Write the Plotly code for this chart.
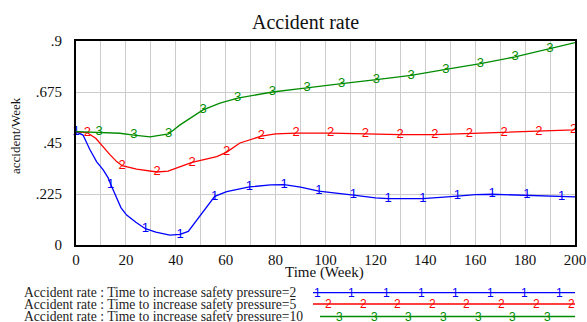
import plotly.graph_objects as go

# ---- data ----
x_s1 = [0, 2.8, 5.6, 8.3, 10.9, 12.9, 13.9, 16, 18, 20.3, 24, 27.8, 32, 37.6, 41.7, 45, 50, 55.6, 60.4,
        69.5, 78, 83.4, 90, 97.3, 111.2, 120, 125.1, 139, 152.9, 160, 166.8, 180.7, 194.6, 200]
y_s1 = [0.5, 0.485, 0.42, 0.367, 0.331, 0.296, 0.268, 0.215, 0.165, 0.132, 0.1, 0.072, 0.057, 0.044, 0.047, 0.06, 0.135, 0.215, 0.235,
        0.256, 0.265, 0.266, 0.255, 0.238, 0.22, 0.208, 0.205, 0.205, 0.216, 0.222, 0.224, 0.22, 0.213, 0.212]
m_s1 = [0, 13.9, 27.8, 41.7, 55.6, 69.5, 83.4, 97.3, 111.2, 125.1, 139, 152.9, 166.8, 180.7, 194.6]

x_s2 = [0, 4.6, 8, 10.9, 13.5, 16.3, 18.5, 24.3, 32.5, 36.9, 42, 46.5, 56.4, 60.4, 65.7, 74.3, 80, 88.2,
        102.1, 116, 129.9, 143.8, 157.7, 171.6, 185.5, 199.4, 200]
y_s2 = [0.5, 0.495, 0.47, 0.432, 0.4, 0.368, 0.35, 0.335, 0.322, 0.326, 0.345, 0.365, 0.39, 0.41, 0.45, 0.48, 0.49, 0.494,
        0.494, 0.49, 0.487, 0.487, 0.492, 0.497, 0.5, 0.508, 0.51]
m_s2 = [4.6, 18.5, 32.5, 46.5, 60.4, 74.3, 88.2, 102.1, 116, 129.9, 143.8, 157.7, 171.6, 185.5, 199.4]

x_s3 = [0, 9.3, 17.6, 23.2, 29.7, 37.1, 41.7, 50.9, 57.7, 64.8, 78.7, 90, 92.6, 106.5, 120.4, 134.3,
        148.2, 162.1, 176, 189.9, 200]
y_s3 = [0.5, 0.498, 0.493, 0.485, 0.477, 0.49, 0.53, 0.596, 0.626, 0.648, 0.675, 0.69, 0.693, 0.712, 0.73, 0.748,
        0.775, 0.8, 0.83, 0.865, 0.893]
m_s3 = [9.3, 23.2, 37.1, 50.9, 64.8, 78.7, 92.6, 106.5, 120.4, 134.3, 148.2, 162.1, 176, 189.9]

series_names = ["Accident rate : Time to increase safety pressure=2",
                "Accident rate : Time to increase safety pressure=5",
                "Accident rate : Time to increase safety pressure=10"]
series_tags = ["1", "2", "3"]
series_colors = ["#0000ff", "#ff0000", "#008c00"]

x_ticks = [0, 20, 40, 60, 80, 100, 120, 140, 160, 180, 200]
y_ticks = [0, 0.225, 0.45, 0.675, 0.9]
y_ticklabels = ["0", ".225", ".45", ".675", ".9"]

# legend sample marker positions (pixels in the page)
leg_marks = [
    [317, 351, 386, 421, 455, 490, 524, 559],
    [328, 363, 397, 432, 466, 501, 536, 571],
    [339, 374, 408, 443, 478, 512, 547],
]

W, H = 587, 322
L, R, T, B = 76, 12, 41, 77
PW, PH = W - L - R, H - T - B

def px2paper(px, py):
    return (px - L) / PW, (H - B - py) / PH

fig = go.Figure()
xs = [x_s1, x_s2, x_s3]
ys = [y_s1, y_s2, y_s3]
ms = [m_s1, m_s2, m_s3]
for i in range(3):
    texts = [series_tags[i] if x in ms[i] else "" for x in xs[i]]
    fig.add_trace(go.Scatter(
        x=xs[i], y=ys[i], mode="lines+text", text=texts, textposition="middle center",
        textfont=dict(family="Liberation Sans", size=13, color=series_colors[i]),
        line=dict(color=series_colors[i], width=1.3), showlegend=False, cliponaxis=False,
        name=series_names[i]))

# manual legend
rows_y = [292.7, 304, 316.5]
line_x0 = [313, 313, 320]
annotations = []
shapes = []
for i in range(3):
    tx, ty = px2paper(22, rows_y[i])
    annotations.append(dict(xref="paper", yref="paper", x=tx, y=ty, xanchor="left", yanchor="middle",
                            text=series_names[i], showarrow=False,
                            font=dict(family="Liberation Serif", size=13.6, color="#222")))
    x0, yy = px2paper(line_x0[i], rows_y[i])
    x1, _ = px2paper(575, rows_y[i])
    shapes.append(dict(type="line", xref="paper", yref="paper", x0=x0, x1=x1, y0=yy, y1=yy,
                       line=dict(color=series_colors[i], width=1.3)))
    for mx in leg_marks[i]:
        ax, ay = px2paper(mx, rows_y[i])
        annotations.append(dict(xref="paper", yref="paper", x=ax, y=ay, xanchor="center", yanchor="middle",
                                text=series_tags[i], showarrow=False,
                                font=dict(family="Liberation Sans", size=12, color=series_colors[i])))

# axis titles and chart title
tx, ty = px2paper(305, 22)
annotations.append(dict(xref="paper", yref="paper", x=tx, y=ty, xanchor="center", yanchor="middle",
                        text="Accident rate", showarrow=False,
                        font=dict(family="Liberation Serif", size=20, color="#111")))
tx, ty = px2paper(324, 272)
annotations.append(dict(xref="paper", yref="paper", x=tx, y=ty, xanchor="center", yanchor="middle",
                        text="Time (Week)", showarrow=False,
                        font=dict(family="Liberation Serif", size=15, color="#111")))
tx, ty = px2paper(15, 136)
annotations.append(dict(xref="paper", yref="paper", x=tx, y=ty, xanchor="center", yanchor="middle",
                        text="accident/Week", showarrow=False, textangle=-90,
                        font=dict(family="Liberation Serif", size=13, color="#111")))

fig.update_layout(
    width=W, height=H, margin=dict(l=L, r=R, t=T, b=B, autoexpand=False),
    paper_bgcolor="white", plot_bgcolor="white",
    annotations=annotations, shapes=shapes,
    xaxis=dict(range=[0, 200], tickvals=x_ticks, showgrid=True, gridcolor="#cccccc", gridwidth=1,
               minor=dict(dtick=10, tick0=0, showgrid=True, gridcolor="#cccccc"),
               showline=True, linecolor="black", linewidth=2, mirror=True, zeroline=False,
               ticks="", tickfont=dict(family="Liberation Serif", size=15, color="#111")),
    yaxis=dict(range=[0, 0.9], tickvals=y_ticks, ticktext=y_ticklabels, showgrid=True, gridcolor="#cccccc",
               showline=True, linecolor="black", linewidth=2, mirror=True, zeroline=False,
               ticks="", ticklabelstandoff=9,
               tickfont=dict(family="Liberation Serif", size=15, color="#111")),
)

fig.write_html("out.html", config={"displayModeBar": False, "staticPlot": True},
               post_script="document.body.style.margin='0';document.body.style.overflow='hidden';")
